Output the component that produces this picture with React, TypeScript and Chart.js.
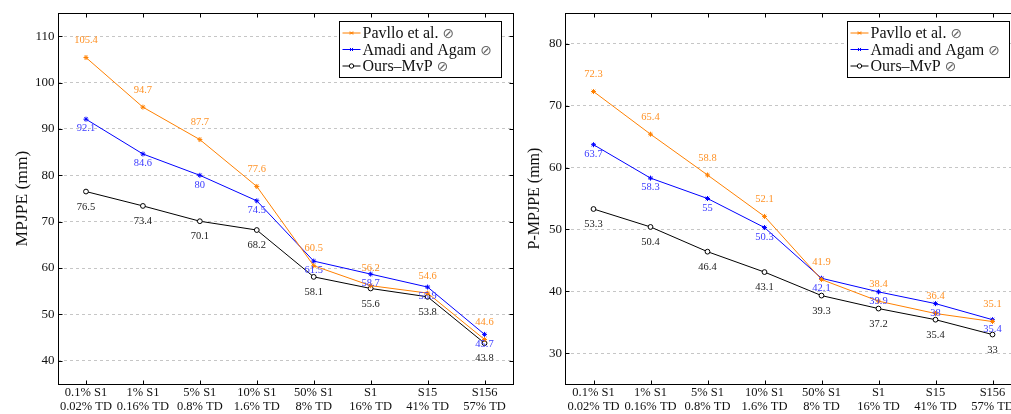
import React, { useEffect, useRef } from "react";
import { Chart, registerables } from "chart.js";

Chart.register(...registerables);

const categories: string[][] = [
  ["0.1% S1", "0.02% TD"],
  ["1% S1", "0.16% TD"],
  ["5% S1", "0.8% TD"],
  ["10% S1", "1.6% TD"],
  ["50% S1", "8% TD"],
  ["S1", "16% TD"],
  ["S15", "41% TD"],
  ["S156", "57% TD"],
];

const seriesNames = ["Pavllo et al.", "Amadi and Agam", "Ours\u2013MvP"];
const seriesMark = "\u2298";

const mpjpePavllo = [105.4, 94.7, 87.7, 77.6, 60.5, 56.2, 54.6, 44.6];
const mpjpeAmadi = [92.1, 84.6, 80, 74.5, 61.5, 58.7, 55.9, 45.7];
const mpjpeOurs = [76.5, 73.4, 70.1, 68.2, 58.1, 55.6, 53.8, 43.8];

const pmpjpePavllo = [72.3, 65.4, 58.8, 52.1, 41.9, 38.4, 36.4, 35.1];
const pmpjpeAmadi = [63.7, 58.3, 55, 50.3, 42.1, 39.9, 38, 35.4];
const pmpjpeOurs = [53.3, 50.4, 46.4, 43.1, 39.3, 37.2, 35.4, 33];

const mpjpeTicks = [40, 50, 60, 70, 80, 90, 100, 110];
const pmpjpeTicks = [30, 40, 50, 60, 70, 80];

const FONT = "'Liberation Serif', 'Times New Roman', serif";
const ORANGE = "#ff8000";
const BLUE = "#0000ff";
const BLACK = "#000000";
const ORANGE_TXT = "#ff9226";
const BLUE_TXT = "#3a3aff";
const BLACK_TXT = "#222222";

function drawMarker(ctx: CanvasRenderingContext2D, style: string, x: number, y: number, r: number, color: string) {
  ctx.save();
  ctx.strokeStyle = color;
  ctx.lineWidth = 1;
  ctx.beginPath();
  if (style === "circle") {
    ctx.fillStyle = "#fff";
    ctx.arc(x, y, r, 0, Math.PI * 2);
    ctx.fill();
    ctx.stroke();
  } else {
    ctx.moveTo(x - r, y);
    ctx.lineTo(x + r, y);
    ctx.moveTo(x - r * 0.7, y - r * 0.7);
    ctx.lineTo(x + r * 0.7, y + r * 0.7);
    ctx.moveTo(x - r * 0.7, y + r * 0.7);
    ctx.lineTo(x + r * 0.7, y - r * 0.7);
    ctx.stroke();
  }
  ctx.restore();
}

const framePlugin = {
  id: "frameAndLabels",
  afterDatasetsDraw(chart: any) {
    const ctx: CanvasRenderingContext2D = chart.ctx;
    chart.data.datasets.forEach((ds: any, di: number) => {
      const meta = chart.getDatasetMeta(di);
      ctx.save();
      ctx.font = `10.5px ${FONT}`;
      ctx.fillStyle = ds.labelColor;
      ctx.textAlign = "center";
      ctx.textBaseline = "middle";
      meta.data.forEach((pt: any, i: number) => {
        ctx.fillText(String(ds.data[i]), pt.x, pt.y + ds.labelOffset);
      });
      ctx.restore();
    });
  },
  afterDraw(chart: any) {
    const ctx: CanvasRenderingContext2D = chart.ctx;
    const a = chart.chartArea;
    const L = Math.round(a.left) + 0.5;
    const R = Math.round(a.right) + 0.5;
    const T = Math.round(a.top) + 0.5;
    const B = Math.round(a.bottom) + 0.5;
    ctx.save();
    ctx.strokeStyle = "#000";
    ctx.lineWidth = 1;
    ctx.strokeRect(L, T, R - L, B - T);
    ctx.beginPath();
    const xs = chart.scales.x;
    for (let i = 0; i < xs.ticks.length; i++) {
      const x = Math.round(xs.getPixelForTick(i)) + 0.5;
      ctx.moveTo(x, T);
      ctx.lineTo(x, T + 4);
      ctx.moveTo(x, B);
      ctx.lineTo(x, B - 4);
    }
    const ys = chart.scales.y;
    for (let i = 0; i < ys.ticks.length; i++) {
      const y = Math.round(ys.getPixelForTick(i)) + 0.5;
      ctx.moveTo(L, y);
      ctx.lineTo(L + 4, y);
      ctx.moveTo(R, y);
      ctx.lineTo(R - 4, y);
    }
    ctx.stroke();

    // legend box
    const w = 162;
    const h = 56;
    const bx = Math.round(a.right - 12 - w) + 0.5;
    const by = Math.round(a.top + 7.5) + 0.5;
    ctx.fillStyle = "#fff";
    ctx.fillRect(bx, by, w, h);
    ctx.strokeRect(bx, by, w, h);
    ctx.textBaseline = "middle";
    ctx.textAlign = "left";
    chart.data.datasets.forEach((ds: any, di: number) => {
      const cy = by + 11.5 + di * 16.5;
      ctx.strokeStyle = ds.borderColor;
      ctx.beginPath();
      ctx.moveTo(bx + 3, cy);
      ctx.lineTo(bx + 21, cy);
      ctx.stroke();
      drawMarker(ctx, ds.pointStyle === "circle" ? "circle" : "star", bx + 12, cy, 2.2, ds.borderColor);
      ctx.font = `16px ${FONT}`;
      ctx.fillStyle = "#111";
      ctx.fillText(ds.label, bx + 23, cy + 1);
      const tw = ctx.measureText(ds.label + " ").width;
      ctx.font = `14px 'DejaVu Sans', sans-serif`;
      ctx.fillStyle = "#666";
      ctx.fillText(seriesMark, bx + 23 + tw, cy + 1.5);
    });
    ctx.restore();
  },
};

function makeConfig(
  values: number[][],
  ticks: number[],
  yMin: number,
  yMax: number,
  title: string,
  titleSize: number,
  titleOffset: number,
  yWidth: number,
  rightPad: number
): any {
  const colors = [ORANGE, BLUE, BLACK];
  const txt = [ORANGE_TXT, BLUE_TXT, BLACK_TXT];
  const offsets = [-17, 9.5, 15.5];
  return {
    type: "line",
    data: {
      labels: categories,
      datasets: values.map((v, i) => ({
        label: seriesNames[i],
        data: v,
        borderColor: colors[i],
        backgroundColor: i === 2 ? "#ffffff" : colors[i],
        borderWidth: 1,
        pointStyle: i === 2 ? "circle" : "star",
        pointRadius: i === 2 ? 2.4 : 2.5,
        pointBorderWidth: 1,
        pointBorderColor: colors[i],
        pointBackgroundColor: i === 2 ? "#ffffff" : colors[i],
        tension: 0,
        fill: false,
        labelColor: txt[i],
        labelOffset: offsets[i],
      })),
    },
    options: {
      responsive: false,
      animation: false,
      devicePixelRatio: 1,
      layout: { padding: { top: 13, right: rightPad, bottom: 0, left: 0 } },
      plugins: {
        legend: { display: false },
        tooltip: { enabled: false },
      },
      scales: {
        x: {
          type: "category",
          offset: true,
          grid: { display: false, drawTicks: false },
          border: { display: false },
          ticks: {
            color: "#111",
            padding: 1,
            maxRotation: 0,
            autoSkip: false,
            font: { family: FONT, size: 12.5, lineHeight: 1.17 },
          },
          afterFit: (s: any) => {
            s.height = 30;
          },
        },
        y: {
          min: yMin,
          max: yMax,
          grid: { color: "#b8b8b8", lineWidth: 0.8, drawTicks: false },
          border: { display: false, dash: [3, 3] },
          afterBuildTicks: (s: any) => {
            s.ticks = ticks.map((v) => ({ value: v }));
          },
          ticks: {
            color: "#111",
            padding: 3,
            font: { family: FONT, size: 13 },
          },
          title: {
            display: true,
            text: title,
            color: "#111",
            font: { family: FONT, size: titleSize },
            padding: { top: titleOffset, bottom: 0 },
          },
          afterFit: (s: any) => {
            s.width = yWidth;
          },
        },
      },
    },
    plugins: [framePlugin],
  };
}

function ChartCanvas(props: { config: any; width: number; height: number; left: number }) {
  const ref = useRef<HTMLCanvasElement | null>(null);
  useEffect(() => {
    if (!ref.current) return;
    const chart = new Chart(ref.current, props.config);
    return () => chart.destroy();
  }, []);
  return (
    <canvas
      ref={ref}
      width={props.width}
      height={props.height}
      style={{ position: "absolute", left: props.left, top: 0, width: props.width, height: props.height }}
    />
  );
}

export default function App() {
  const leftCfg = makeConfig(
    [mpjpePavllo, mpjpeAmadi, mpjpeOurs],
    mpjpeTicks,
    35,
    115,
    "MPJPE (mm)",
    17.5,
    12,
    57.5,
    7
  );
  const rightCfg = makeConfig(
    [pmpjpePavllo, pmpjpeAmadi, pmpjpeOurs],
    pmpjpeTicks,
    25,
    85,
    "P-MPJPE (mm)",
    16,
    20.5,
    60,
    14
  );
  return (
    <div
      style={{
        position: "fixed",
        left: 0,
        top: 0,
        width: 1011,
        height: 414,
        overflow: "hidden",
        background: "#fff",
      }}
    >
      <ChartCanvas config={leftCfg} width={520} height={414} left={0} />
      <ChartCanvas config={rightCfg} width={530} height={414} left={505} />
    </div>
  );
}
